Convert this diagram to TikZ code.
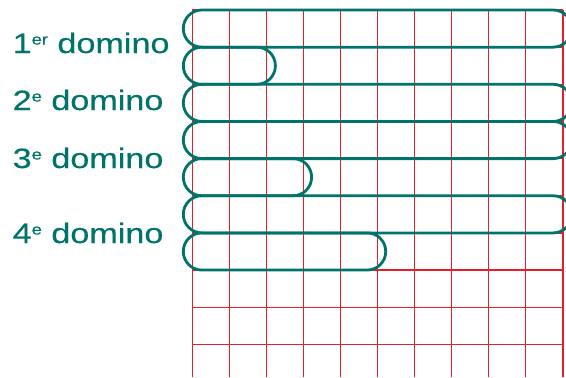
\documentclass[tikz,border=0pt]{standalone}
\usepackage{fontspec}
\setmainfont{Liberation Sans}[FakeStretch=1.22,FakeBold=0.4]
\definecolor{teal1}{HTML}{00736A}
\definecolor{gridred}{HTML}{E3202A}
\newcommand{\ordsup}[1]{\raisebox{8.5bp}{\fontsize{15bp}{15bp}\selectfont #1}}
\tikzset{
  gridline/.style={draw=gridred, line width=1.4bp},
  domino/.style={draw=teal1, line width=2.8bp, rounded corners=18.5bp},
  label/.style={anchor=base west, inner sep=0pt, text=teal1, font=\fontsize{28bp}{28bp}\selectfont},
}
\begin{document}
\begin{tikzpicture}[x=1bp,y=-1bp]
\useasboundingbox (0,0) rectangle (566,377);
\begin{scope}
\clip (0,0) rectangle (566,377);
% grid
\foreach \k in {0,...,10}
  \draw[gridline] ({192.3+37.05*\k},10) -- ({192.3+37.05*\k},377);
\foreach \k in {0,...,9}
  \draw[gridline] (192.3,{10+37.15*\k}) -- (562.8,{10+37.15*\k});
% dominoes
\draw[domino] (183.3,10) rectangle (571.7,47.15);
\draw[domino] (183.3,47.15) rectangle (275.4,84.3);
\draw[domino] (183.3,84.3) rectangle (571.7,121.45);
\draw[domino] (183.3,121.45) rectangle (571.7,158.6);
\draw[domino] (183.3,158.6) rectangle (311.6,195.75);
\draw[domino] (183.3,195.75) rectangle (571.7,232.9);
\draw[domino] (183.3,232.9) rectangle (385.7,270.05);
\end{scope}
% labels
\node[label] (l1) at (12.5,53) {1\ordsup{er} domino};
\node[label] (l2) at (12.5,110) {2\ordsup{e} domino};
\node[label] (l3) at (12.5,168) {3\ordsup{e} domino};
\node[label] (l4) at (12.5,243) {4\ordsup{e} domino};
\end{tikzpicture}
\end{document}
